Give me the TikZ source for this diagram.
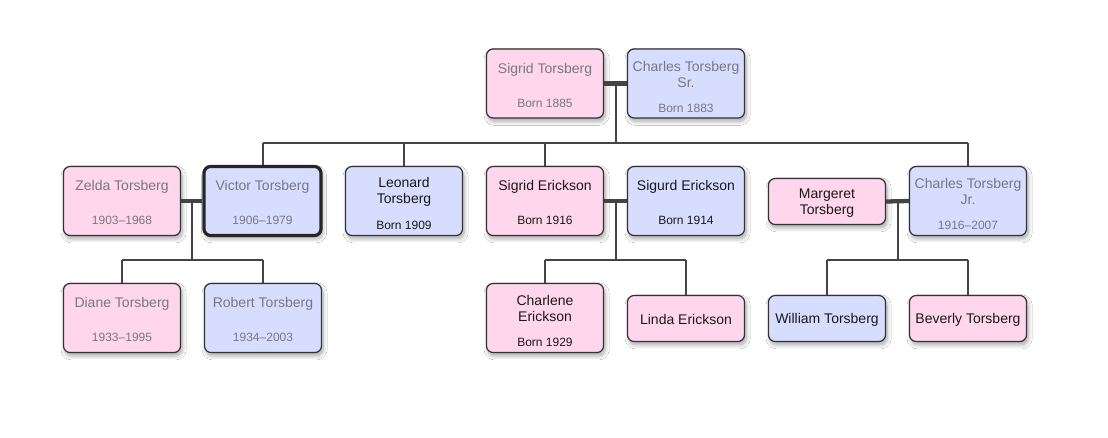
\documentclass[tikz,border=0pt]{standalone}
\usepackage{fontspec}
\setmainfont{Liberation Sans}
\usetikzlibrary{calc,shadows.blur}
\definecolor{pinkf}{RGB}{255,214,236}
\definecolor{bluef}{RGB}{214,221,255}
\definecolor{bordc}{RGB}{51,51,51}
\definecolor{linec}{RGB}{68,68,68}
\definecolor{deadc}{RGB}{120,120,130}
\definecolor{livec}{RGB}{25,25,25}
\begin{document}
\begin{tikzpicture}[x=0.75pt,y=-0.75pt,
  pbox/.style={draw=bordc,line width=0.9pt,rounded corners=5pt,minimum width=87.8pt,inner sep=0pt,
    blur shadow={shadow xshift=1.2pt,shadow yshift=-2.5pt,shadow blur steps=10,shadow blur radius=3pt,shadow opacity=35}},
  tall/.style={minimum height=51.8pt},
  short/.style={minimum height=34.5pt},
  pinkbox/.style={pbox,fill=pinkf},
  bluebox/.style={pbox,fill=bluef},
  nm/.style={font=\fontsize{10.5}{12}\selectfont,align=center,inner sep=0pt,yshift=-1.1pt},
  yr/.style={font=\fontsize{9}{11}\selectfont,inner sep=0pt,yshift=-0.8pt},
  dead/.style={text=deadc},
  live/.style={text=livec},
  conn/.style={draw=linec,line width=1.5pt},
  couple/.style={draw=linec,line width=3.2pt},
]
\useasboundingbox (0,0) rectangle (1108,437);
\fill[white] (0,0) rectangle (1108,437);

% generation 1
\node[pinkbox,tall] (st) at (545,83.5) {};
\node[nm,dead] (stn) at ($(st.center)+(0,-15.5)$) {Sigrid Torsberg};
\node[yr,dead] (sty) at ($(st.center)+(0,18.5)$) {Born 1885};
\node[bluebox,tall] (cs) at (686,83.5) {};
\node[nm,dead] (csn) at ($(cs.center)+(0,-10.5)$) {Charles Torsberg\\Sr.};
\node[yr,dead] (csy) at ($(cs.center)+(0,23.5)$) {Born 1883};

% generation 2
\node[pinkbox,tall] (zt) at (122,201) {};
\node[nm,dead] (ztn) at ($(zt.center)+(0,-16)$) {Zelda Torsberg};
\node[yr,dead] (zty) at ($(zt.center)+(0,18)$) {1903--1968};
\node[bluebox,tall,line width=2.4pt,draw=black!85] (vt) at (262.5,201) {};
\node[nm,dead] (vtn) at ($(vt.center)+(0,-16)$) {Victor Torsberg};
\node[yr,dead] (vty) at ($(vt.center)+(0,18)$) {1906--1979};
\node[bluebox,tall] (lt) at (404,201) {};
\node[nm,live] (ltn) at ($(lt.center)+(0,-11)$) {Leonard\\Torsberg};
\node[yr,live] (lty) at ($(lt.center)+(0,23)$) {Born 1909};
\node[pinkbox,tall] (se) at (545,201) {};
\node[nm,live] (sen) at ($(se.center)+(0,-16)$) {Sigrid Erickson};
\node[yr,live] (sey) at ($(se.center)+(0,18)$) {Born 1916};
\node[bluebox,tall] (sg) at (686,201) {};
\node[nm,live] (sgn) at ($(sg.center)+(0,-16)$) {Sigurd Erickson};
\node[yr,live] (sgy) at ($(sg.center)+(0,18)$) {Born 1914};
\node[pinkbox,short] (mt) at (827,201.5) {};
\node[nm,live] (mtn) at (mt.center) {Margeret\\Torsberg};
\node[bluebox,tall] (cj) at (968,201) {};
\node[nm,dead] (cjn) at ($(cj.center)+(0,-11)$) {Charles Torsberg\\Jr.};
\node[yr,dead] (cjy) at ($(cj.center)+(0,23)$) {1916--2007};

% generation 3
\node[pinkbox,tall] (dt) at (122,318) {};
\node[nm,dead] (dtn) at ($(dt.center)+(0,-16)$) {Diane Torsberg};
\node[yr,dead] (dty) at ($(dt.center)+(0,18)$) {1933--1995};
\node[bluebox,tall] (rt) at (263,318) {};
\node[nm,dead] (rtn) at ($(rt.center)+(0,-16)$) {Robert Torsberg};
\node[yr,dead] (rty) at ($(rt.center)+(0,18)$) {1934--2003};
\node[pinkbox,tall] (ce) at (545,318) {};
\node[nm,live] (cen) at ($(ce.center)+(0,-11)$) {Charlene\\Erickson};
\node[yr,live] (cey) at ($(ce.center)+(0,23)$) {Born 1929};
\node[pinkbox,short] (le) at (686,318.5) {};
\node[nm,live] (len) at (le.center) {Linda Erickson};
\node[bluebox,short] (wt) at (827,318.5) {};
\node[nm,live] (wtn) at (wt.center) {William Torsberg};
\node[pinkbox,short] (bt) at (968,318.5) {};
\node[nm,live] (btn) at (bt.center) {Beverly Torsberg};

% family 1
\coordinate (m1) at ($(st.east)!0.5!(cs.west)$);
\coordinate (bus1) at ($(m1)+(0,59.5)$);
\draw[conn] (m1) -- (bus1);
\draw[conn] (vt.north |- bus1) -- (cj.north |- bus1);
\draw[conn] (vt.north |- bus1) -- (vt.north);
\draw[conn] (lt.north |- bus1) -- (lt.north);
\draw[conn] (se.north |- bus1) -- (se.north);
\draw[conn] (cj.north |- bus1) -- (cj.north);
\draw[couple] (st.east) -- (cs.west);

% family 2
\coordinate (m2) at ($(zt.east)!0.5!(vt.west)$);
\coordinate (bus2) at ($(m2)+(0,59)$);
\draw[conn] (m2) -- (bus2);
\draw[conn] (dt.north |- bus2) -- (rt.north |- bus2);
\draw[conn] (dt.north |- bus2) -- (dt.north);
\draw[conn] (rt.north |- bus2) -- (rt.north);
\draw[couple] (zt.east) -- (vt.west);

% family 3
\coordinate (m3) at ($(se.east)!0.5!(sg.west)$);
\coordinate (bus3) at ($(m3)+(0,59)$);
\draw[conn] (m3) -- (bus3);
\draw[conn] (ce.north |- bus3) -- (le.north |- bus3);
\draw[conn] (ce.north |- bus3) -- (ce.north);
\draw[conn] (le.north |- bus3) -- (le.north);
\draw[couple] (se.east) -- (sg.west);

% family 4
\coordinate (m4) at ($(mt.east)!0.5!(cj.west)$);
\coordinate (bus4) at ($(m4)+(0,58.5)$);
\draw[conn] (m4) -- (bus4);
\draw[conn] (wt.north |- bus4) -- (bt.north |- bus4);
\draw[conn] (wt.north |- bus4) -- (wt.north);
\draw[conn] (bt.north |- bus4) -- (bt.north);
\draw[couple] (mt.east) -- (cj.west);
\end{tikzpicture}
\end{document}
